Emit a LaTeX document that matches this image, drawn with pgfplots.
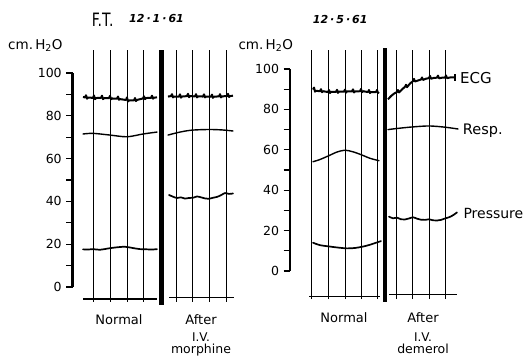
\documentclass[border=0pt]{standalone}
\usepackage{pgfplots}
\pgfplotsset{compat=1.18}
\usepackage{fontspec}
\setmainfont{DejaVu Sans}
\newcommand{\fs}[1]{\fontsize{#1}{#1}\selectfont}
\newcommand{\dsep}{\hspace{2pt}·\hspace{2pt}}
\begin{document}
\begin{tikzpicture}
\path (0,0) rectangle (526pt,357pt);
\pgfplotsset{
  trace/.style={black, line width=1.7pt, line join=round, line cap=round},
  ecg/.style={black, line width=2pt, line join=round},
  grid line/.style={black, line width=0.8pt},
  bar/.style={black, line width=4.5pt},
  panel/.style={
    anchor=south west, scale only axis, clip=false,
    ymin=0, ymax=100, xmax=526,
    axis x line=none, axis y line*=left,
    ytick={0,20,...,100}, minor ytick={10,30,...,90},
    tick align=outside, major tick length=6.5pt, minor tick length=6.5pt,
    every tick/.style={black, line width=1.2pt},
    y axis line style={line width=2.5pt},
    yticklabel style={font=\fs{12.5pt}, xshift=-1pt},
    /pgf/number format/assume math mode=true,
    unbounded coords=jump,
  },
}
% ---------------- left panel (F.T. 12.1.61) ----------------
\begin{axis}[panel, at={(72.7pt,70pt)}, width=453.3pt, height=214pt, xmin=72.7]
% chart-paper lines
\addplot[grid line] coordinates {(93,-7)(93,110.7) (110,nan) (110,-7)(110,110.7) (127,nan) (127,-7)(127,110.7) (143,nan) (143,-7)(143,110.7)
 (176,nan) (176,-7)(176,110.7) (192,nan) (192,-7)(192,110.7) (209,nan) (209,-7)(209,110.7) (226,nan) (226,-7)(226,110.7)};
\addplot[black, line width=1.1pt] coordinates {(83,-5.6)(157,-5.6) (160,nan) (169,-5.1)(234,-5.1)};
\addplot[bar] coordinates {(161.5,-8.4)(161.5,110.7)};
% ECG
\addplot[ecg] coordinates {(83,88.8)(85,88.6)(86,89.6)(87,88.0)(88,88.5)(93,88.4)(94,89.5)(95,87.8)(96,88.3)(101,88.4)(102,89.4)(103,87.8)(104,88.2)(109,88.3)(110,89.3)(111,87.7)(112,88.1)(117,88.0)(118,89.0)(119,87.5)(120,87.8)(126,87.4)(127,88.6)(128,86.7)(129,87.2)(134,87.2)(135,88.3)(136,86.9)(137,87.4)(143,88.1)(144,89.1)(145,87.8)(146,88.3)(151,88.4)(152,89.4)(153,88.0)(154,88.5)(157,88.6)};
\addplot[ecg] coordinates {(168,89.0)(171,89.2)(172,90.1)(173,88.6)(174,89.0)(179,89.0)(180,90.0)(181,88.5)(182,89.0)(187,89.2)(188,90.3)(189,88.7)(190,89.2)(195,89.1)(196,90.1)(197,88.6)(198,89.1)(203,89.0)(204,90.0)(205,88.6)(206,89.0)(211,88.9)(212,89.9)(213,88.4)(214,88.9)(219,89.1)(220,90.1)(221,88.6)(222,89.1)(227,89.2)(228,90.3)(229,88.8)(230,89.2)(233,89.4)};
% Resp
\addplot[trace, line width=1.4pt, smooth] coordinates {(83,71.5)(93,71.8)(110,71.0)(127,70.2)(143,71.5)(157,72.4)};
\addplot[trace, line width=1.4pt, smooth] coordinates {(168,71.0)(180,72.4)(192,73.3)(209,73.6)(222,73.4)(233,72.9)};
% Pressure
\addplot[trace, smooth] coordinates {(83,17.6)(88,17.5)(93,17.7)(100,17.4)(108,18.0)(116,18.5)(125,18.8)(133,18.2)(140,17.7)(147,17.6)(152,17.5)(157,17.7)};
\addplot[trace, smooth] coordinates {(169,43.0)(173,42.2)(177,41.6)(181,41.9)(185,41.3)(189,41.6)(193,41.7)(197,42.3)(201,41.9)(205,41.4)(209,41.2)(213,41.7)(217,42.1)(221,42.9)(225,43.9)(229,43.5)(233,43.7)};
\end{axis}
% ---------------- right panel (12.5.61) ----------------
\begin{axis}[panel, at={(290pt,86pt)}, width=236pt, height=202pt, xmin=290]
\addplot[grid line] coordinates {(311.7,-13.9)(311.7,109.4) (320,nan) (328.3,-13.9)(328.3,109.4) (340,nan) (345,-13.9)(345,109.4) (350,nan) (361,-13.9)(361,109.4) (370,nan) (377.7,-13.9)(377.7,109.4)
 (390,nan) (396.7,-13.9)(396.7,109.4) (400,nan) (412.7,-13.9)(412.7,109.4) (420,nan) (429,-13.9)(429,109.4) (440,nan) (445,-13.9)(445,109.4)};
\addplot[black, line width=1.1pt] coordinates {(309,-12.7)(380,-12.7) (385,nan) (389,-11.5)(457,-11.5)};
\addplot[bar] coordinates {(385,-15.2)(385,110.4)};
% ECG
\addplot[ecg] coordinates {(313,89.8)(314,90.8)(315,88.8)(316,89.2)(320,89.0)(321,90.0)(322,88.5)(323,89.0)(328,88.6)(329,89.6)(330,88.1)(331,88.7)(336,88.7)(337,89.7)(338,88.2)(339,88.8)(344,88.8)(345,89.8)(346,88.3)(347,88.9)(352,88.9)(353,89.9)(354,88.4)(355,88.9)(360,89.0)(361,90.1)(362,88.5)(363,89.0)(368,88.6)(369,89.6)(370,88.1)(371,88.6)(376,88.6)(377,89.6)(378,88.1)(379,88.6)};
\addplot[ecg] coordinates {(388,85.0)(391,86.6)(394,87.8)(397,88.6)(398,89.6)(399,88.4)(402,89.9)(405,91.2)(406,92.2)(407,91.0)(410,92.8)(413,94.0)(414,95.1)(415,93.8)(418,94.3)(421,94.8)(422,95.8)(423,94.6)(426,95.2)(429,95.5)(430,96.6)(431,95.2)(434,95.6)(437,95.7)(438,96.7)(439,95.4)(442,95.7)(445,95.8)(446,96.8)(447,95.5)(450,95.8)(455,95.9)};
\addplot[black, line width=1.3pt] coordinates {(455,94.2)(455,97.6)};
% Resp
\addplot[trace, line width=1.4pt, smooth] coordinates {(313,54.1)(320,55.2)(328,56.9)(337,58.9)(345,59.8)(353,59.0)(361,57.6)(370,55.8)(379,54.6)};
\addplot[trace, line width=1.4pt, smooth] coordinates {(388,70.0)(396,70.5)(412,71.3)(429,71.8)(445,71.2)(458,70.3)};
% Pressure
\addplot[trace, smooth] coordinates {(313,14.0)(320,12.8)(330,12.1)(338,11.6)(347,11.2)(355,11.4)(363,12.1)(370,13.0)(376,14.0)(381,14.8)};
\addplot[trace, smooth] coordinates {(389,26.9)(393,26.1)(397,26.4)(401,25.6)(405,25.5)(409,26.0)(413,26.6)(417,25.9)(421,25.4)(425,25.3)(429,25.6)(433,25.1)(437,25.0)(441,25.3)(445,26.0)(449,26.6)(453,27.6)(457,29.0)};
\end{axis}
% ---------------- text ----------------
\node[anchor=base west, inner sep=0] at (91.7pt,330.3pt) {\scalebox{0.76}[1]{\fs{18.4pt}F.T.}};
\node[anchor=base west, inner sep=0] at (129pt,334.3pt) {\fs{11pt}\bfseries\itshape 12\dsep 1\dsep 61};
\node[anchor=base west, inner sep=0] at (312.7pt,333.7pt) {\fs{11pt}\bfseries\itshape 12\dsep 5\dsep 61};
\node[anchor=base west, inner sep=0] at (8pt,307.7pt) {\fs{13.5pt}cm.\,H\textsubscript{2}O};
\node[anchor=base west, inner sep=0] at (238.3pt,307.7pt) {\fs{13.5pt}cm.\,H\textsubscript{2}O};
\node[anchor=base, inner sep=0] at (119pt,33pt) {\fs{13pt}Normal};
\node[anchor=base, inner sep=0] at (201pt,33pt) {\fs{13pt}After};
\node[anchor=base, inner sep=0] at (201pt,16pt) {\fs{12pt}I.V.};
\node[anchor=base, inner sep=0] at (201pt,3.3pt) {\fs{12.5pt}morphine};
\node[anchor=base, inner sep=0] at (344pt,34.3pt) {\fs{13pt}Normal};
\node[anchor=base, inner sep=0] at (423pt,34.3pt) {\fs{13pt}After};
\node[anchor=base, inner sep=0] at (423pt,16pt) {\fs{12pt}I.V.};
\node[anchor=base, inner sep=0] at (423pt,3.3pt) {\fs{12.5pt}demerol};
\node[anchor=base west, inner sep=0] at (460pt,273.7pt) {\fs{15pt}ECG};
\node[anchor=base west, inner sep=0] at (462.7pt,223pt) {\fs{14.5pt}Resp.};
\node[anchor=base west, inner sep=0] at (463.3pt,138.7pt) {\fs{14pt}Pressure};
\end{tikzpicture}
\end{document}
